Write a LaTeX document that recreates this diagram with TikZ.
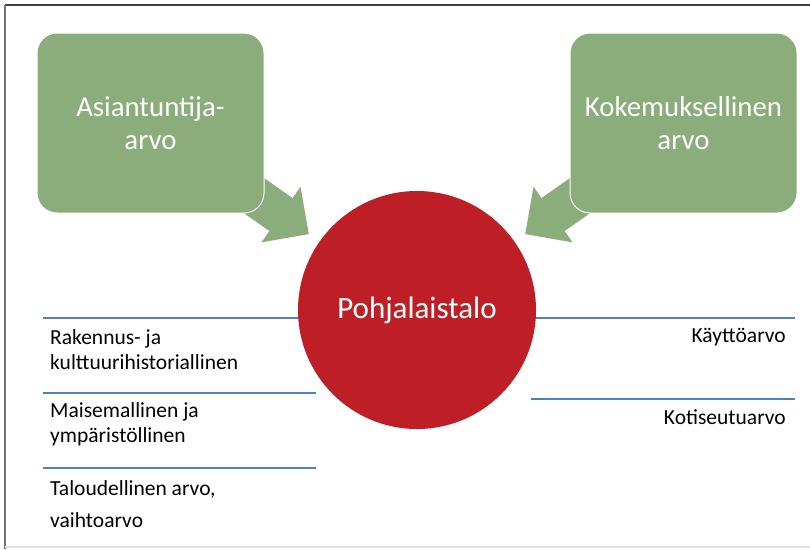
\documentclass[tikz,border=0pt]{standalone}
\usepackage{fontspec}
\setmainfont{Carlito}
\usetikzlibrary{arrows.meta, positioning, backgrounds}
\definecolor{boxgreen}{RGB}{139,172,123}
\definecolor{housered}{RGB}{190,31,39}
\definecolor{lineblue}{RGB}{79,129,189}

\begin{document}
\begin{tikzpicture}[x=1pt, y=-1pt,
                        valuebox/.style={rectangle, rounded corners=20pt, fill=boxgreen, draw=white, line width=1pt,
                                         minimum width=227pt, minimum height=180pt, text=white, align=center,
                                         font=\fontsize{28.8}{33}\selectfont},
                        house/.style={circle, fill=housered, minimum size=238pt, text=white,
                                      font=\fontsize{31}{36}\selectfont},
                        flow/.style={boxgreen, line width=40pt, shorten >=13pt,
                                     -{Triangle[width=68pt, length=34pt, line width=0pt]}},
                        shaft/.style={boxgreen, line width=40pt, shorten >=40pt},
                        sepline/.style={lineblue, line width=1.6pt},
                        valuetext/.style={inner sep=0pt, align=left, font=\fontsize{21.5}{25}\selectfont},
                        ]
  \useasboundingbox (0,0) rectangle (810,549);
  % frame
  \draw[black!75, line width=1.4pt] (5,5) -- (810,5);
  \draw[black!55, line width=1.4pt] (5,5) -- (5,549);
  \draw[black!12, line width=1.6pt] (5,547) -- (810,547);

  % separator lines
  \draw[sepline] (43,318) -- (316,318);
  \draw[sepline] (43,393) -- (316,393);
  \draw[sepline] (43,468) -- (316,468);
  \draw[sepline] (531,318) -- (795,318);
  \draw[sepline] (531,399) -- (795,399);

  \node[house] (house) at (417,310) {Pohjalaistalo};
  \node[valuebox] (expert) at (150.5,123) {Asiantuntija-\\arvo};
  \node[valuebox] (experience) at (683.5,123) {Kokemuksellinen\\arvo};

  \begin{scope}[on background layer]
    \draw[flow] (expert.center) -- (house);
    \draw[shaft] (expert.center) -- (house);
    \draw[flow] (experience.center) -- (house);
    \draw[shaft] (experience.center) -- (house);
  \end{scope}

  \node[valuetext, anchor=west] (culture) at (50,349.5) {Rakennus- ja\\kulttuurihistoriallinen};
  \node[valuetext, anchor=west] (landscape) at (50,424.5) {Maisemallinen ja\\ympäristöllinen};
  \node[valuetext, anchor=west] (economy) at (50,504) {Taloudellinen arvo,\\[7pt]vaihtoarvo};
  \node[valuetext, anchor=east] (use) at (786,337) {Käyttöarvo};
  \node[valuetext, anchor=east] (home) at (786,417) {Kotiseutuarvo};
\end{tikzpicture}
\end{document}
